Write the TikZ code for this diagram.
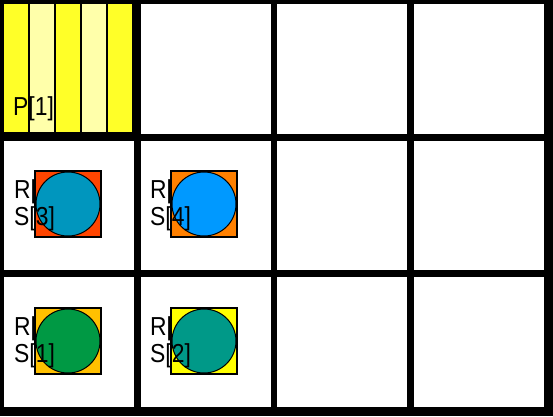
\documentclass[tikz,border=0pt]{standalone}
\usepackage{fontspec}
\setmainfont{Liberation Sans}
\definecolor{stripe}{RGB}{255,255,40}
\definecolor{stripelight}{RGB}{255,255,170}
\definecolor{sqred}{RGB}{255,69,0}
\definecolor{sqorange}{RGB}{255,128,0}
\definecolor{sqamber}{RGB}{255,192,0}
\definecolor{sqyellow}{RGB}{255,255,0}
\definecolor{robteal}{RGB}{0,150,190}
\definecolor{robblue}{RGB}{0,153,255}
\definecolor{robgreen}{RGB}{0,153,68}
\definecolor{robsea}{RGB}{0,153,136}
\tikzset{lbl/.style={anchor=base west, inner sep=0pt, xscale=0.88, font=\fontsize{26}{26}\selectfont}}
\def\robot#1(#2,#3)#4#5#6{%
	\node[lbl] (#1r) at (#2-21, #3+27) {R[};
	\draw[line width=2pt, fill=#4] (#2, #3) rectangle (#2+66, #3+66);
	\draw[line width=1pt, fill=#5] (#2+33, #3+33) circle (32pt);
	\node[lbl] (#1s) at (#2-21, #3+54) {S[#6]};
}

\begin{document}
\begin{tikzpicture}[x=1pt, y=-1pt]
			%%%%% START %%%%%
			\useasboundingbox (0, 0) rectangle (553, 416);
			\fill[black] (0, 0) rectangle (553, 416);
			
			\fill[white] (141, 4) rectangle (271, 134);
			\fill[white] (277, 4) rectangle (407, 134);
			\fill[white] (414, 4) rectangle (544, 134);
			
			\fill[white] (4, 141) rectangle (134, 270);
			\fill[white] (141, 141) rectangle (271, 270);
			\fill[white] (277, 141) rectangle (407, 270);
			\fill[white] (414, 141) rectangle (544, 270);
			
			\fill[white] (4, 277) rectangle (134, 407);
			\fill[white] (141, 277) rectangle (271, 407);
			\fill[white] (277, 277) rectangle (407, 407);
			\fill[white] (414, 277) rectangle (544, 407);
			
			\fill[stripe] (4, 4) rectangle (28, 132);
			\fill[stripelight] (30, 4) rectangle (54, 132);
			\fill[stripe] (56, 4) rectangle (80, 132);
			\fill[stripelight] (82, 4) rectangle (106, 132);
			\fill[stripe] (108, 4) rectangle (132, 132);
			\node[lbl] (p1) at (13, 115) {P[1]};
			
			\robot a(35,171){sqred}{robteal}{3}
			\robot b(171,171){sqorange}{robblue}{4}
			\robot c(35,308){sqamber}{robgreen}{1}
			\robot d(171,308){sqyellow}{robsea}{2}
			
			%%%%% END %%%%%
		\end{tikzpicture}
\end{document}
